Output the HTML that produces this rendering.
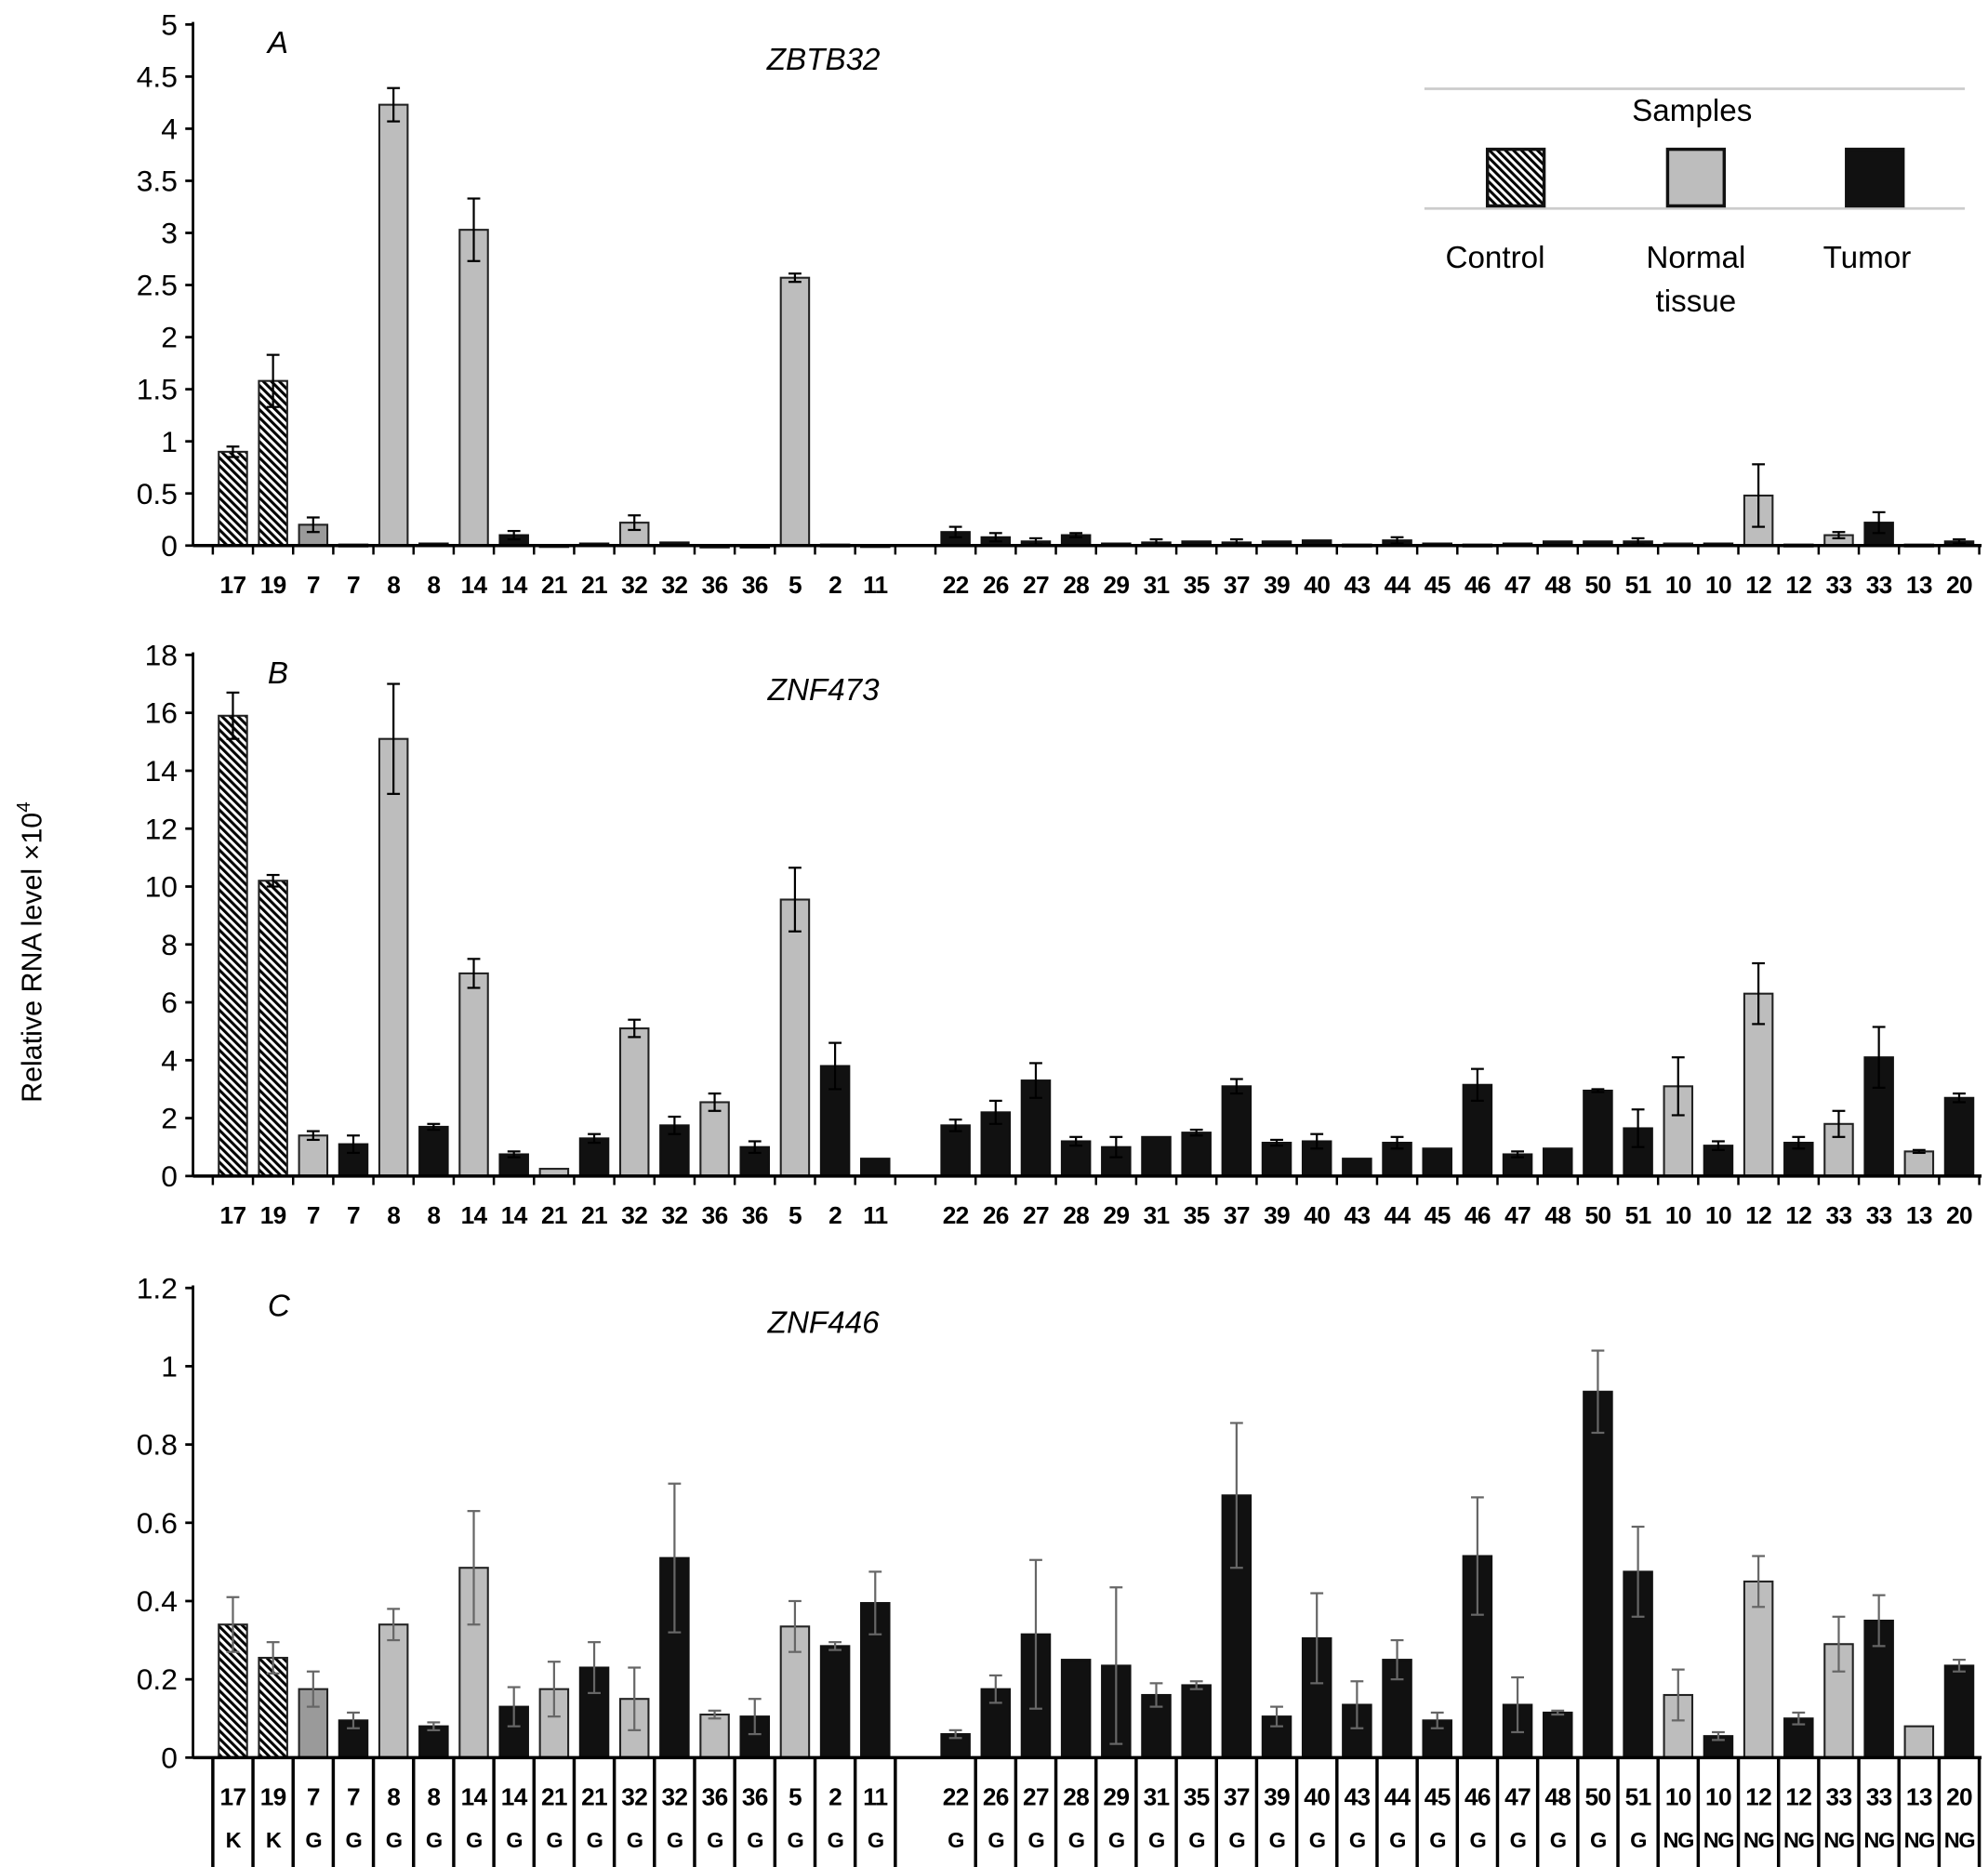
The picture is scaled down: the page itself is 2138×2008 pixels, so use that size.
<!DOCTYPE html>
<html><head><meta charset="utf-8"><style>
html,body{margin:0;padding:0;background:#fff;}
svg{display:block;font-family:"Liberation Sans",sans-serif;}
</style></head><body>
<svg id="chart" width="2138" height="2008" viewBox="0 0 1545 1451" xmlns="http://www.w3.org/2000/svg">
<defs>
<pattern id="hatch" patternUnits="userSpaceOnUse" width="4.4" height="4.4" patternTransform="rotate(-45)">
<rect width="4.4" height="4.4" fill="#fff"/><rect width="2.2" height="4.4" fill="#000"/>
</pattern>
</defs>
<g id="root"></g>
</svg>
<script>
const categories = ["17","19","7","7","8","8","14","14","21","21","32","32","36","36","5","2","11","","22","26","27","28","29","31","35","37","39","40","43","44","45","46","47","48","50","51","10","10","12","12","33","33","13","20"];
const sampleTypes = ["C","C","N","T","N","T","N","T","N","T","N","T","N","T","N","T","T","","T","T","T","T","T","T","T","T","T","T","T","T","T","T","T","T","T","T","N","T","N","T","N","T","N","T"];
const groupCodes = ["K","K","G","G","G","G","G","G","G","G","G","G","G","G","G","G","G","","G","G","G","G","G","G","G","G","G","G","G","G","G","G","G","G","G","G","NG","NG","NG","NG","NG","NG","NG","NG"];
const valuesA = [0.9,1.58,0.2,0.01,4.23,0.02,3.03,0.1,0.005,0.02,0.22,0.03,0,0,2.57,0.01,0.005,null,0.13,0.08,0.04,0.1,0.02,0.03,0.04,0.03,0.04,0.05,0.01,0.05,0.02,0.01,0.02,0.04,0.04,0.04,0.02,0.02,0.48,0.01,0.1,0.22,0.01,0.04];
const errorsA = [0.05,0.25,0.07,0,0.16,0,0.3,0.04,0,0,0.07,0,0,0,0.04,0,0,null,0.05,0.04,0.03,0.02,0,0.03,0,0.03,0,0,0,0.03,0,0,0,0,0,0.03,0,0,0.3,0,0.03,0.1,0,0.02];
const valuesB = [15.9,10.2,1.4,1.1,15.1,1.7,7.0,0.75,0.25,1.3,5.1,1.75,2.55,1.0,9.55,3.8,0.6,null,1.75,2.2,3.3,1.2,1.0,1.35,1.5,3.1,1.15,1.2,0.6,1.15,0.95,3.15,0.75,0.95,2.95,1.65,3.1,1.05,6.3,1.15,1.8,4.1,0.85,2.7];
const errorsB = [0.8,0.2,0.15,0.3,1.9,0.1,0.5,0.1,0,0.15,0.3,0.3,0.3,0.2,1.1,0.8,0,null,0.2,0.4,0.6,0.15,0.35,0,0.1,0.25,0.1,0.25,0,0.2,0,0.55,0.1,0,0.05,0.65,1.0,0.15,1.05,0.2,0.45,1.05,0.05,0.15];
const valuesC = [0.34,0.255,0.175,0.095,0.34,0.08,0.485,0.13,0.175,0.23,0.15,0.51,0.11,0.105,0.335,0.285,0.395,null,0.06,0.175,0.315,0.25,0.235,0.16,0.185,0.67,0.105,0.305,0.135,0.25,0.095,0.515,0.135,0.115,0.935,0.475,0.16,0.055,0.45,0.1,0.29,0.35,0.08,0.235];
const errorsC = [0.07,0.04,0.045,0.02,0.04,0.01,0.145,0.05,0.07,0.065,0.08,0.19,0.01,0.045,0.065,0.01,0.08,null,0.01,0.035,0.19,0,0.2,0.03,0.01,0.185,0.025,0.115,0.06,0.05,0.02,0.15,0.07,0.005,0.105,0.115,0.065,0.01,0.065,0.015,0.07,0.065,0,0.015];
const ticksA = ["0","0.5","1","1.5","2","2.5","3","3.5","4","4.5","5"];
const ticksB = ["0","2","4","6","8","10","12","14","16","18"];
const ticksC = ["0","0.2","0.4","0.6","0.8","1","1.2"];

const NS = "http://www.w3.org/2000/svg";
const root = document.getElementById("root");
function el(tag, attrs, parent, text){
  const e = document.createElementNS(NS, tag);
  for (const k in attrs) e.setAttribute(k, attrs[k]);
  if (text !== undefined) e.textContent = text;
  (parent || root).appendChild(e);
  return e;
}
const AX = 150, X0 = 181, STEP = 31.2, BW = 22, XEND = 1540;
function xPos(i){ return X0 + i * STEP; }

function panel(key, letter, gene, vals, errs, ticks, y0, yTop, tickMax, errColor, midGrayFirst7){
  const g = el("g", {});
  
  
  const yScale = v => y0 - (v / tickMax) * (y0 - yTop);
  const ax = el("line", {x1:AX, y1:yTop - 2, x2:AX, y2:y0, stroke:"#000", "stroke-width":2}, g);
  
  
  ticks.forEach(t => {
    const y = yScale(parseFloat(t));
    el("line", {x1:AX - 6, y1:y, x2:AX, y2:y, stroke:"#000", "stroke-width":2}, g);
    const tl = el("text", {x:AX - 12, y:y + 8, "text-anchor":"end", "font-size":23}, g, t);
    
    
  });
  categories.forEach((c, i) => {
    const v = vals[i];
    if (v === null || c === "") return;
    const t = sampleTypes[i];
    let fill = t === "C" ? "url(#hatch)" : t === "N" ? "#bdbdbd" : "#111";
    if (midGrayFirst7 && i === 2) fill = "#9a9a9a";
    const yv = yScale(v);
    const b = el("rect", {x:xPos(i) - BW/2, y:yv, width:BW, height:Math.max(y0 - yv, 1.5), fill:fill, stroke:t === "T" ? "#111" : "#222", "stroke-width":1.5}, g);
    
    
    const e = errs[i];
    if (e > 0) {
      const eg = el("g", {stroke:errColor, "stroke-width":1.6}, g);
      
      
      const yh = yScale(v + e), yl = yScale(Math.max(v - e, 0));
      el("line", {x1:xPos(i), y1:yh, x2:xPos(i), y2:yl}, eg);
      el("line", {x1:xPos(i) - 5, y1:yh, x2:xPos(i) + 5, y2:yh}, eg);
      el("line", {x1:xPos(i) - 5, y1:yl, x2:xPos(i) + 5, y2:yl}, eg);
    }
  });
  const xa = el("line", {x1:AX, y1:y0, x2:XEND, y2:y0, stroke:"#000", "stroke-width":2.5}, g);
  
  
  if (key !== "c") {
    for (let i = 0; i <= categories.length; i++) {
      const x = xPos(i) - STEP/2;
      el("line", {x1:x, y1:y0, x2:x, y2:y0 + 7, stroke:"#000", "stroke-width":1.8}, g);
    }
  }
  categories.forEach((c, i) => {
    if (c === "") return;
    const tl = el("text", {x:xPos(i), y:y0 + 37, "text-anchor":"middle", "font-size":19, "font-weight":"bold", "letter-spacing":"-0.5"}, g, c);
    
    
  });
  const pl = el("text", {x:208, y:yTop + 22, "font-size":24, "font-style":"italic"}, g, letter);
  
  
  const gt = el("text", {x:640, y:yTop + 35, "text-anchor":"middle", "font-size":24, "font-style":"italic"}, g, gene);
  
  
}

panel("a", "A", "ZBTB32", valuesA, errorsA, ticksA, 424, 19, 5, "#000", true);
panel("b", "B", "ZNF473", valuesB, errorsB, ticksB, 914, 509, 18, "#000", false);
panel("c", "C", "ZNF446", valuesC, errorsC, ticksC, 1366, 1001, 1.2, "#666", true);

const tbl = el("g", {});


for (let i = 0; i <= categories.length; i++) {
  if (i === 18) continue;
  const x = xPos(i) - STEP/2;
  el("line", {x1:x, y1:1366, x2:x, y2:1456, stroke:"#000", "stroke-width":2.5}, tbl);
}
categories.forEach((c, i) => {
  if (c === "") return;
  const t = el("text", {x:xPos(i), y:1436, "text-anchor":"middle", "font-size":17, "font-weight":"bold", "letter-spacing":"-1"}, tbl, groupCodes[i]);
  
  
});

const yt = el("text", {x:0, y:0, transform:"translate(32,740) rotate(-90)", "text-anchor":"middle", "font-size":22}, root);


yt.innerHTML = 'Relative RNA level ×10<tspan dy="-9" font-size="15">4</tspan>';

const lg = el("g", {});


el("line", {x1:1107, y1:69, x2:1527, y2:69, stroke:"#ccc", "stroke-width":2}, lg);
el("line", {x1:1107, y1:162, x2:1527, y2:162, stroke:"#ccc", "stroke-width":2}, lg);
const lt = el("text", {x:1315, y:94, "text-anchor":"middle", "font-size":24}, lg, "Samples");


const legendItems = [["Control","url(#hatch)",1178],["Normal","#bdbdbd",1318],["Tumor","#111",1457]];
legendItems.forEach(it => {
  const r = el("rect", {x:it[2] - 22, y:116, width:44, height:44, fill:it[1], stroke:"#111", "stroke-width":2.5}, lg);
  
  
});
const l1 = el("text", {x:1162, y:208, "text-anchor":"middle", "font-size":24}, lg, "Control");


const l2 = el("text", {x:1318, y:208, "text-anchor":"middle", "font-size":24}, lg, "Normal");


const l2b = el("text", {x:1318, y:242, "text-anchor":"middle", "font-size":24}, lg, "tissue");


const l3 = el("text", {x:1451, y:208, "text-anchor":"middle", "font-size":24}, lg, "Tumor");


</script>
</body></html>
